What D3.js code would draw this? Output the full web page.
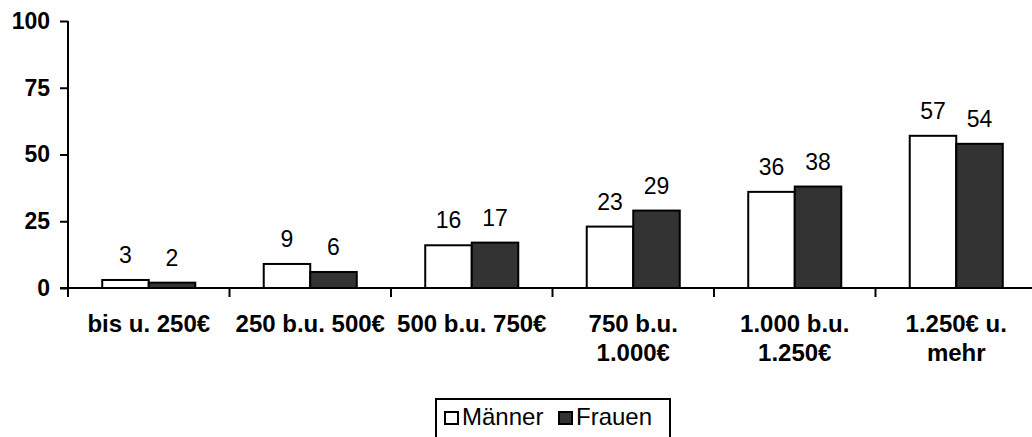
<!DOCTYPE html>
<html><head><meta charset="utf-8">
<script src="https://cdn.jsdelivr.net/npm/d3@7"></script>
<style>
html,body{margin:0;padding:0;background:#fff;}
svg{display:block;font-family:"Liberation Sans",Arial,sans-serif;}
</style></head>
<body>
<svg id="c" width="1032" height="437"></svg>
<script>
const categories = [["bis u. 250€"],["250 b.u. 500€"],["500 b.u. 750€"],["750 b.u.","1.000€"],["1.000 b.u.","1.250€"],["1.250€ u.","mehr"]];
const series = ["Männer","Frauen"];
const maenner = [3,9,16,23,36,57];
const frauen = [2,6,17,29,38,54];
const yTicks = [0,25,50,75,100];
const colors = ["#ffffff","#333333"];

const svg = d3.select("#c");
const catIdx = categories.map((d,i)=>i);
const x0 = d3.scaleBand().domain(catIdx).range([68,1037]).paddingInner(0.424).paddingOuter(0.212);
const x1 = d3.scaleBand().domain(series).range([0,x0.bandwidth()]);
const y = d3.scaleLinear().domain([0,100]).range([288,21]);
const values = [maenner, frauen];

// bars
const g = svg.append("g");
catIdx.forEach(i=>{
  series.forEach((s,si)=>{
    const v = values[si][i];
    g.append("rect")
      .attr("x", x0(i)+x1(s)).attr("y", y(v))
      .attr("width", x1.bandwidth()).attr("height", y(0)-y(v))
      .attr("fill", colors[si]).attr("stroke","#000").attr("stroke-width",2);
    g.append("text")
      .attr("x", x0(i)+x1(s)+x1.bandwidth()/2).attr("y", y(v)-17)
      .attr("text-anchor","middle").attr("font-size",23).attr("fill","#000")
      .text(v);
  });
});

// y axis
const yAxis = d3.axisLeft(y).tickValues(yTicks).tickSize(8).tickPadding(10);
const ya = svg.append("g").attr("transform","translate(68,0)").call(yAxis);
ya.select(".domain").attr("stroke","#000").attr("stroke-width",2).attr("d","M0,"+y(100)+"V"+y(0));
ya.selectAll(".tick line").attr("stroke","#000").attr("stroke-width",2);
ya.selectAll(".tick text").attr("font-size",23).attr("font-weight","bold").attr("fill","#000").attr("font-family","Liberation Sans, Arial, sans-serif");

// x axis
const step = x0.step();
svg.append("line").attr("x1",60).attr("x2",1032).attr("y1",y(0)).attr("y2",y(0)).attr("stroke","#000").attr("stroke-width",2);
d3.range(categories.length+1).forEach(i=>{
  const xx = x0.range()[0] + i*step;
  svg.append("line").attr("x1",xx).attr("x2",xx).attr("y1",y(0)).attr("y2",y(0)+9).attr("stroke","#000").attr("stroke-width",2);
});
catIdx.forEach(i=>{
  const t = svg.append("text").attr("text-anchor","middle").attr("font-size",24).attr("font-weight","bold").attr("fill","#000");
  categories[i].forEach((line,li)=>{
    t.append("tspan").attr("x", x0(i)+x0.bandwidth()/2).attr("y", 332+li*29).text(line);
  });
});

// legend
const lg = svg.append("g");
lg.append("rect").attr("x",436).attr("y",399).attr("width",234).attr("height",50).attr("fill","#fff").attr("stroke","#000").attr("stroke-width",2);
const legX = [445, 559];
series.forEach((s,si)=>{
  lg.append("rect").attr("x",legX[si]).attr("y",412).attr("width",13).attr("height",12).attr("fill",colors[si]).attr("stroke","#000").attr("stroke-width",2);
  lg.append("text").attr("x",legX[si]+17).attr("y",425).attr("font-size",24).attr("fill","#000").text(s);
});
</script>
</body></html>
